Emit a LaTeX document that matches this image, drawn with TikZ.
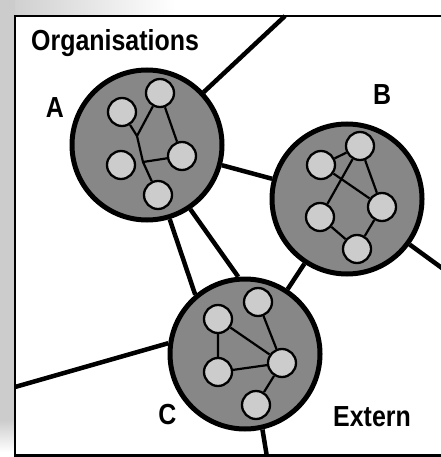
\documentclass[tikz,border=0pt]{standalone}
\usepackage{fontspec}
\newfontfamily\labfont{Liberation Sans}[FakeStretch=0.86]
\begin{document}
\begin{tikzpicture}[x=1pt,y=-1pt,
  org/.style={circle,draw=black,line width=5pt,fill=black!47,minimum size=150pt,inner sep=0pt},
  member/.style={circle,draw=black,line width=2.3pt,fill=black!20,minimum size=28pt,inner sep=0pt},
  link/.style={line width=4.5pt},
  tie/.style={line width=2.2pt},
  lab/.style={font=\labfont\bfseries\fontsize{29}{33}\selectfont,inner sep=0pt}]
\useasboundingbox (0,0) rectangle (440,457);

% stippled shadow along the top and left edges
\shade[left color=black!20,right color=white] (0,0) rectangle (175,15);
\fill[black!20] (0,0) rectangle (15,420);
\shade[top color=black!20,bottom color=white] (0,420) rectangle (15,452);

% frame
\draw[line width=2.5pt] (445,16) -- (15,16) -- (15,455.5) -- (445,455.5);

% organisations
\node[org] (A) at (147,145) {};
\node[org] (B) at (347,199) {};
\node[org] (C) at (245,354) {};

% members of A
\node[member] (a1) at (122,112) {};
\node[member] (a2) at (160,93) {};
\node[member] (a3) at (121,165) {};
\node[member] (a4) at (182,156) {};
\node[member] (a5) at (158,195) {};
\coordinate (ja) at (137,136);
\coordinate (ka) at (143,162);
\draw[tie] (a1) -- (ja) (a2) -- (ja) -- (ka) -- (a5) (ka) -- (a4) (a2) -- (a4);

% members of B
\node[member] (b1) at (321,165) {};
\node[member] (b2) at (360,146) {};
\node[member] (b3) at (320,217) {};
\node[member] (b4) at (382,207) {};
\node[member] (b5) at (357,249) {};
\draw[tie] (b1) -- (b2) (b2) -- (b3) (b1) -- (b4) (b2) -- (b4) (b3) -- (b5) (b4) -- (b5);

% members of C
\node[member] (c1) at (218,319) {};
\node[member] (c2) at (258,302) {};
\node[member] (c3) at (218,372) {};
\node[member] (c4) at (282,363) {};
\node[member] (c5) at (256,405) {};
\draw[tie] (c1) -- (c3) (c1) -- (c4) (c2) -- (c4) (c3) -- (c4) (c4) -- (c5);

% links between organisations and to the outside
\coordinate (topA) at (285,16);
\coordinate (rightB) at (446,271);
\coordinate (leftC) at (15,387);
\coordinate (botC) at (267,457);
\draw[link] (A) -- (B);
\draw[link] (B) -- (C);
\draw[link] (A.-73) -- (C.130);
\draw[link] (A.-56) -- (C.95);
\draw[link] (A.43.5) -- (topA);
\draw[link] (B.-36) -- (rightB);
\draw[link] (C.172) -- (leftC);
\draw[link] (C.-77) -- (botC);

% labels
\node[lab,anchor=base west] (tOrg) at (31,51) {Organisations};
\node[lab,anchor=base] (tA) at (55,118) {A};
\node[lab,anchor=base] (tB) at (382,105) {B};
\node[lab,anchor=base] (tC) at (167.5,424) {C};
\node[lab,anchor=base west] (tExt) at (333,426) {Extern};
\end{tikzpicture}
\end{document}
